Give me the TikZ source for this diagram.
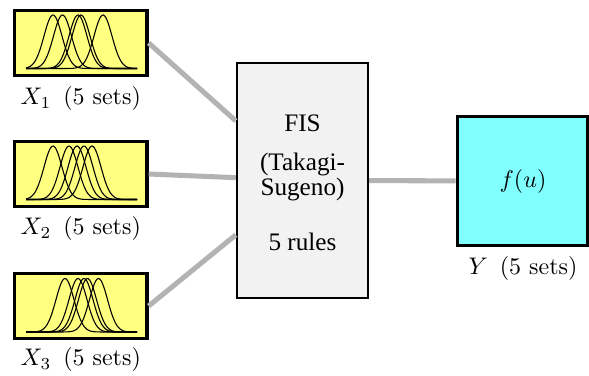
\documentclass[tikz,border=0pt]{standalone}
\usepackage{fontspec}
\newfontfamily\fisfont{Liberation Serif}
\definecolor{inyel}{HTML}{FFFF80}
\definecolor{outcyan}{HTML}{80FFFF}
\definecolor{fisgray}{HTML}{F2F2F2}
\definecolor{linkgray}{HTML}{B3B3B3}
\tikzset{
  varbox/.style={draw=black, line width=1.4pt, minimum width=55.2pt, minimum height=27.2pt, inner sep=0pt},
  inbox/.style={varbox, fill=inyel},
  outbox/.style={draw=black, line width=1.4pt, fill=outcyan, minimum width=54.4pt, minimum height=53.8pt, inner sep=0pt},
  fisbox/.style={draw=black, line width=0.8pt, fill=fisgray, minimum width=54.8pt, minimum height=98.1pt, inner sep=0pt},
  lbl/.style={inner sep=0pt, font=\fontsize{10}{12}\selectfont},
  fistext/.style={inner sep=0pt, align=center, font=\fisfont\fontsize{10.5}{10.4}\selectfont},
  link/.style={draw=linkgray, line width=2.1pt},
  mf/.style={line width=0.45pt, black}
}
\begin{document}
\begin{tikzpicture}[x=0.4167pt,y=-0.4167pt]
\useasboundingbox (0,0) rectangle (589,376);
% nodes
\node[inbox] (x1) at (80.75,43) {};
\node[inbox] (x2) at (80.75,174) {};
\node[inbox] (x3) at (80.75,306) {};
\node[fisbox] (fis) at (302.5,180.5) {};
\node[outbox] (yout) at (522.6,181) {};
% connectors
\draw[link] (x1.east) -- (fis);
\draw[link] (x2.east) -- (fis);
\draw[link] (x3.east) -- (fis);
\draw[link] (fis) -- (yout);
% membership functions
\foreach \m in {53,62.5,78,81,103}
  \draw[mf] plot[domain=26:137,samples=90,smooth] (\x,{68.5-53.5*exp(-(\x-\m)*(\x-\m)/162)});
\foreach \m in {53,69,77,84,92}
  \draw[mf] plot[domain=26:137,samples=90,smooth] (\x,{199.5-53.5*exp(-(\x-\m)*(\x-\m)/162)});
\foreach \m in {65,78,84,87.5,98.5}
  \draw[mf] plot[domain=26:137,samples=90,smooth] (\x,{332-53.5*exp(-(\x-\m)*(\x-\m)/162)});
% texts
\node[lbl] (lx1) at (80.75,98.5) {$X_1$\hspace{5pt}(5 sets)};
\node[lbl] (lx2) at (80.75,228.5) {$X_2$\hspace{5pt}(5 sets)};
\node[lbl] (lx3) at (80.75,359.5) {$X_3$\hspace{5pt}(5 sets)};
\node[fistext] (fist) at (302.5,182.5) {FIS\\[5.9pt](Takagi-\\Sugeno)\\[12.6pt]5 rules};
\node[lbl] (fu) at (523,182) {$f(u)$};
\node[lbl] (ly) at (523,268.5) {$Y$\hspace{5pt}(5 sets)};
\end{tikzpicture}
\end{document}
